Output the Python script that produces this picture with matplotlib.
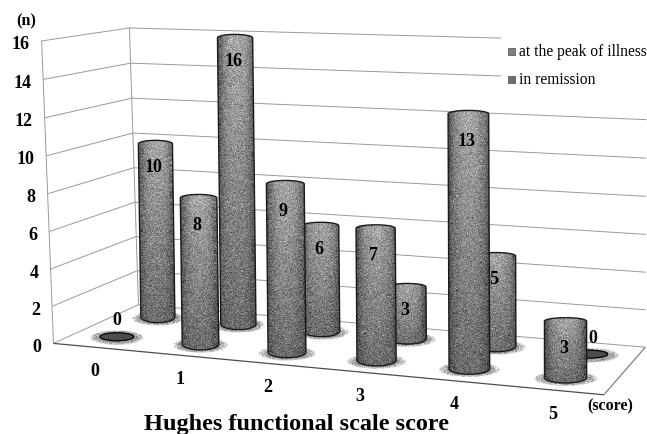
import numpy as np
import matplotlib
matplotlib.use("Agg")
import matplotlib.pyplot as plt
from matplotlib.patches import Ellipse, Polygon, Rectangle

plt.rcParams['font.family'] = ['Liberation Serif', 'DejaVu Serif']

# data
scores = ['0', '1', '2', '3', '4', '5']
peak = [0, 8, 9, 7, 13, 3]
remission = [10, 16, 6, 3, 5, 0]
y_ticks = [0, 2, 4, 6, 8, 10, 12, 14, 16]
legend_labels = ['at the peak of illness', 'in remission']

rng = np.random.default_rng(3)

# camera: box corners (score, depth, n) -> image position
box_world = np.array([[0, 0, 0], [6, 0, 0], [6, 2, 0], [0, 2, 0],
                      [0, 0, 16], [0, 2, 16], [6, 2, 16]], dtype=float)
box_image = np.array([[52, 345], [604, 395], [645, 349], [140, 305],
                      [43, 42], [128, 29], [647, 43]], dtype=float)


def fit_camera(world, image):
    rows = []
    for (a, b, c), (x, y) in zip(world, image):
        rows.append([a, b, c, 1, 0, 0, 0, 0, -x*a, -x*b, -x*c, -x])
        rows.append([0, 0, 0, 0, a, b, c, 1, -y*a, -y*b, -y*c, -y])
    return np.linalg.svd(np.array(rows))[2][-1].reshape(3, 4)


P = fit_camera(box_world, box_image)


def proj(a, b, c):
    h = P @ np.array([a, b, c, 1.0])
    return h[0]/h[2], h[1]/h[2]


def top_x(u, v, val):
    # the barrels lean less than the walls do
    x0 = proj(u, v, 0)[0]
    return x0 + 0.45*(proj(u, v, val)[0] - x0)


def draw_line(ax, pts, **kw):
    xy = np.array(pts)
    ax.plot(xy[:, 0], xy[:, 1], solid_capstyle='butt', **kw)


def draw_cylinder(ax, u, v, val, z):
    x0, y0 = proj(u, v, 0)
    y1 = proj(u, v, val)[1] + 3.5
    x1 = top_x(u, v, val)
    hw = (proj(u + 0.215, v, 0)[0] - proj(u - 0.215, v, 0)[0]) / 2

    # shadow on the floor
    sx = np.linspace(-1, 1, 60)
    r = np.hypot(*np.meshgrid(sx, sx))
    halo = np.clip(0.62 + rng.normal(0, 0.08, r.shape) + 0.25*np.clip(r - 0.75, 0, 1)*4, 0, 1)
    im = ax.imshow(halo, cmap='gray', vmin=0, vmax=1, interpolation='nearest', aspect='auto',
                   extent=(x0 - hw*1.5, x0 + hw*1.5, y0 + 8.5, y0 - 6.5), zorder=z)
    im.set_clip_path(Ellipse((x0, y0 + 1), hw*3, 15, transform=ax.transData))

    if val == 0:
        ax.add_patch(Ellipse((x0, y0), hw*1.9, 8, fc='0.3', ec='black', lw=0.9, zorder=z + 1))
        return

    t = np.linspace(0, np.pi, 40)
    top = np.c_[x1 - hw*np.cos(t), y1 - 3.5*np.sin(t)]
    bottom = np.c_[x0 + hw*np.cos(t), y0 + 5.5*np.sin(t)]
    outline = np.vstack([top, bottom])
    poly = Polygon(outline, closed=True, fc='none', ec='0.1', lw=1.0, zorder=z + 2)
    ax.add_patch(poly)

    # speckled shading across the barrel
    nx, ny = int(hw*2 + 6), int(y0 - y1 + 14)
    xs = np.linspace(-1.1, 1.1, nx)
    ys = np.linspace(0, 1, ny)
    shade = 0.5 - 0.26*np.abs(xs)**3
    img = np.outer(np.ones(ny), shade)
    img += (0.16 - 0.24*ys)[:, None] * (1 - np.abs(xs)**2)
    img += rng.normal(0, 0.07, img.shape)
    im = ax.imshow(np.clip(img, 0, 1), cmap='gray', vmin=0, vmax=1, interpolation='nearest',
                   extent=(min(x0, x1) - hw - 3, max(x0, x1) + hw + 3, y0 + 8, y1 - 6),
                   aspect='auto', zorder=z + 1)
    im.set_clip_path(poly)


fig = plt.figure(figsize=(6.47, 4.35), dpi=100)
ax = fig.add_axes([0, 0, 1, 1])

# walls and floor
grid = dict(color='0.6', lw=0.7, zorder=1)
for val in y_ticks:
    draw_line(ax, [proj(0, 0, val), proj(0, 2, val), proj(6, 2, val)], **grid)
draw_line(ax, [proj(0, 0, 0), proj(0, 0, 16)], **grid)
draw_line(ax, [proj(0, 2, 0), proj(0, 2, 16)], **grid)
draw_line(ax, [proj(6, 2, 0), proj(6, 0, 0)], color='0.45', lw=0.8, zorder=1)
draw_line(ax, [proj(0, 0, 0), proj(6, 0, 0)], color='0.3', lw=0.9, zorder=1)

# legend box hides the top of the wall
ax.add_patch(Rectangle((501, 30), 146, 63, fc='white', ec='none', zorder=2))

# back row first, then the front row
for i, val in enumerate(remission):
    draw_cylinder(ax, i + 0.5, 1.5, val, 3 + i*0.01)
for i, val in enumerate(peak):
    draw_cylinder(ax, i + 0.5, 0.5, val, 6 + i*0.01)

for series, v, z, drop in ((remission, 1.5, 5, 26), (peak, 0.5, 8, 30)):
    for i, val in enumerate(series):
        x = top_x(i + 0.5, v, val)
        y = proj(i + 0.5, v, val)[1]
        if val == 0:
            y -= 17
            x += 4 if i == 5 else 0
            z_txt = 9
        else:
            y += drop
            x -= 2
            z_txt = z
        ax.text(x, y, str(val), ha='center', va='center', fontsize=13,
                fontweight='bold', zorder=z_txt)

for val in y_ticks:
    x, y = proj(0, 0, val)
    ax.text(x - 12, y + 3, str(val), ha='right', va='center', fontsize=13, fontweight='bold')
for i, lab in enumerate(scores):
    x, y = proj(i + 0.5, 0, 0)
    ax.text(x - 0.5, y + 23, lab, ha='center', va='center', fontsize=13, fontweight='bold')

ax.text(26, 21, '(n)', ha='center', va='center', fontsize=11.7, fontweight='bold')
ax.text(610, 406, '(score)', ha='center', va='center', fontsize=11.5, fontweight='bold')
ax.text(296, 425, 'Hughes functional scale score', ha='center', va='center',
        fontsize=17.5, fontweight='bold')

# legend
for y, lab, col in zip((52, 80), legend_labels, ('0.5', '0.42')):
    ax.add_patch(Rectangle((508, y - 3.5), 7, 7, fc=col, ec='0.3', lw=0.5, zorder=9))
    ax.text(519, y, lab, ha='left', va='center', fontsize=11.2, zorder=9)

ax.set_xlim(0, 647)
ax.set_ylim(435, 0)
ax.axis('off')

fig.savefig('out.png', dpi=100)
